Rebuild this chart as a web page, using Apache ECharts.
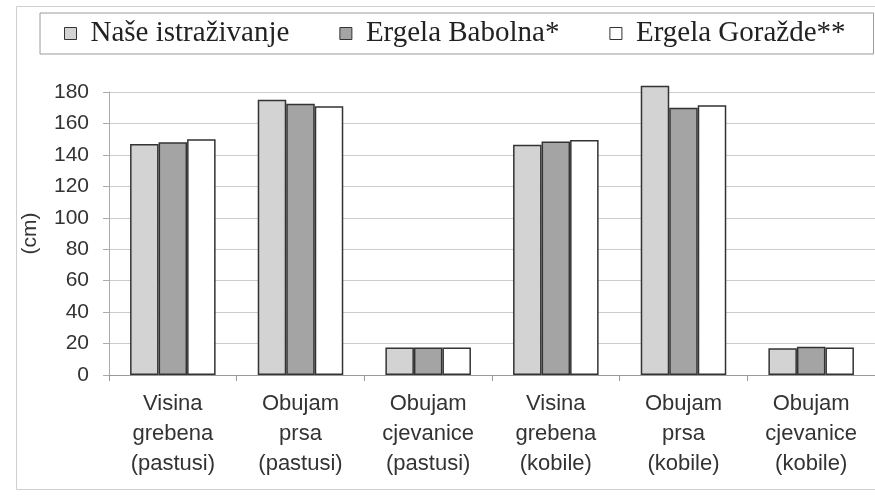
<!DOCTYPE html>
<html>
<head>
<meta charset="utf-8">
<script src="https://cdn.jsdelivr.net/npm/echarts@6/dist/echarts.min.js"></script>
<style>html,body{margin:0;padding:0;background:#fff}#c{width:875px;height:498px}</style>
</head>
<body>
<div id="c"></div>
<script>
const categories = [
  "Visina\ngrebena\n(pastusi)",
  "Obujam\nprsa\n(pastusi)",
  "Obujam\ncjevanice\n(pastusi)",
  "Visina\ngrebena\n(kobile)",
  "Obujam\nprsa\n(kobile)",
  "Obujam\ncjevanice\n(kobile)"
];
const seriesNames = ["Naše istraživanje", "Ergela Babolna*", "Ergela Goražde**"];
const naseIstrazivanje = [147, 175, 17.5, 146.5, 184, 17];
const ergelaBabolna = [148, 172.5, 17.5, 148.5, 170, 18];
const ergelaGorazde = [150, 171, 17.5, 149.5, 171.5, 17.5];
const yTicks = [0, 20, 40, 60, 80, 100, 120, 140, 160, 180];

const colors = ["#d3d3d3", "#a4a4a4", "#ffffff"];
const values = [naseIstrazivanje, ergelaBabolna, ergelaGorazde];

const chart = echarts.init(document.getElementById('c'), null, {renderer: 'canvas'});
chart.setOption({
  backgroundColor: '#ffffff',
  animation: false,
  graphic: [{
    type: 'rect', left: 14, top: 4, shape: {width: 900, height: 483},
    style: {fill: 'none', stroke: '#cfcfcf', lineWidth: 1}, silent: true
  }],
  legend: {
    left: 40, top: 13,
    padding: [6, 28, 6, 24],
    borderColor: '#9a9a9a', borderWidth: 1,
    itemGap: 50, itemWidth: 12, itemHeight: 12,
    icon: 'rect',
    textStyle: {fontFamily: 'Liberation Serif', fontSize: 29, color: '#222', padding: [0, 0, 0, 9]},
    data: seriesNames.map((n, i) => ({
      name: n,
      itemStyle: {color: colors[i], borderColor: '#333', borderWidth: 1}
    }))
  },
  grid: {left: 109, top: 92, width: 775, height: 283, containLabel: false},
  xAxis: {
    type: 'category',
    data: categories,
    axisLine: {show: true, lineStyle: {color: '#999', width: 1}},
    axisTick: {show: true, length: 6, lineStyle: {color: '#999'}},
    axisLabel: {fontFamily: 'Liberation Sans', fontSize: 22, color: '#333', lineHeight: 30, margin: 14, interval: 0}
  },
  yAxis: {
    type: 'value',
    min: yTicks[0], max: yTicks[yTicks.length - 1], interval: 20,
    name: '(cm)', nameLocation: 'middle', nameRotate: 90, nameGap: 68,
    nameTextStyle: {fontFamily: 'Liberation Sans', fontSize: 21, color: '#333'},
    axisLine: {show: true, lineStyle: {color: '#aaa'}},
    axisTick: {show: true, length: 6, lineStyle: {color: '#aaa'}},
    axisLabel: {fontFamily: 'Liberation Sans', fontSize: 21, color: '#333', margin: 20},
    splitLine: {show: true, lineStyle: {color: '#cccccc', width: 1}}
  },
  series: seriesNames.map((n, i) => ({
    name: n,
    type: 'bar',
    data: values[i],
    clip: false,
    barGap: '0%',
    barCategoryGap: '33%',
    itemStyle: {color: colors[i], borderColor: '#333', borderWidth: 1.5}
  }))
});
</script>
</body>
</html>
